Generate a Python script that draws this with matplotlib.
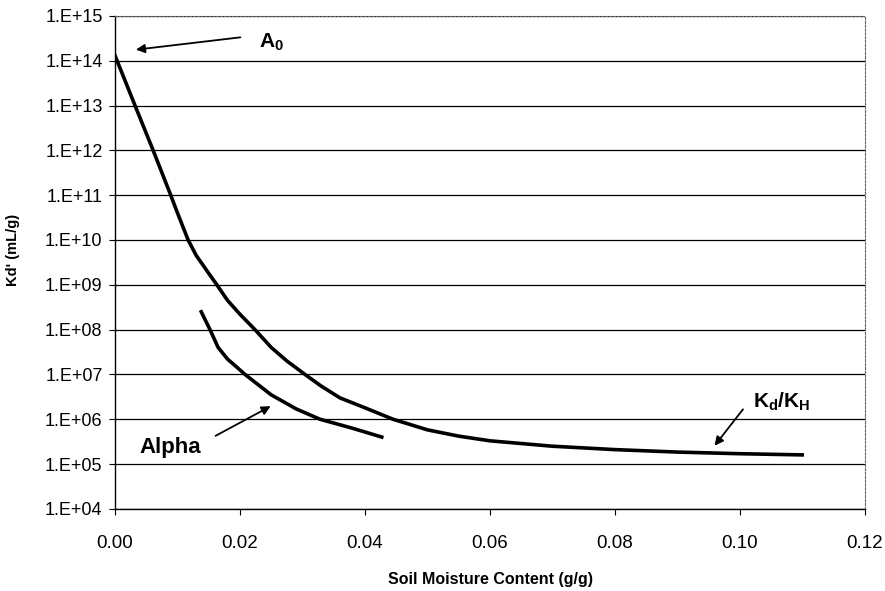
import numpy as np
import matplotlib.pyplot as plt
from matplotlib.ticker import FixedLocator, FuncFormatter, NullLocator

plt.rcParams['font.family'] = ['Liberation Sans', 'DejaVu Sans']
plt.rcParams['mathtext.fontset'] = 'custom'
plt.rcParams['mathtext.rm'] = 'Liberation Sans'
plt.rcParams['mathtext.bf'] = 'Liberation Sans:bold'
plt.rcParams['mathtext.it'] = 'Liberation Sans:italic'

# Kd'/KH curve
main_x = [0.0, 0.0032, 0.0061, 0.0088, 0.010, 0.0117, 0.013, 0.015, 0.0163, 0.018,
          0.020, 0.0224, 0.025, 0.0275, 0.0304, 0.033, 0.036, 0.040, 0.0445, 0.050,
          0.055, 0.060, 0.070, 0.080, 0.090, 0.100, 0.110]
main_y = [1.3e14, 1e13, 1e12, 1.1e11, 4e10, 1e10, 4.5e9, 1.8e9, 1e9, 4.5e8,
          2.2e8, 1e8, 4e7, 2e7, 1e7, 5.5e6, 3e6, 1.8e6, 1e6, 5.8e5,
          4.2e5, 3.3e5, 2.5e5, 2.1e5, 1.85e5, 1.7e5, 1.6e5]

# Alpha curve
alpha_x = [0.0138, 0.0152, 0.0165, 0.018, 0.0195, 0.0208, 0.025, 0.029, 0.0328,
           0.038, 0.0427]
alpha_y = [2.5e8, 1e8, 4e7, 2.2e7, 1.45e7, 1e7, 3.5e6, 1.7e6, 1e6, 6.3e5, 4.0e5]

x_ticks = [0.00, 0.02, 0.04, 0.06, 0.08, 0.10, 0.12]
y_decades = list(range(4, 16))

fig = plt.figure(figsize=(8.85, 5.91), dpi=100)
ax = fig.add_axes([0.130, 0.139, 0.847, 0.834])

ax.plot(main_x, main_y, color='black', lw=2.6, solid_joinstyle='round')
ax.plot(alpha_x, alpha_y, color='black', lw=2.6, solid_joinstyle='round')

ax.set_yscale('log')
ax.set_xlim(0, 0.12)
ax.set_ylim(1e4, 1e15)
ax.yaxis.set_major_locator(FixedLocator([10.0 ** d for d in y_decades]))
ax.yaxis.set_minor_locator(NullLocator())
ax.yaxis.set_major_formatter(FuncFormatter(lambda v, p: '1.E+%02d' % round(np.log10(v))))
ax.set_xticks(x_ticks)
ax.xaxis.set_major_formatter(FuncFormatter(lambda v, p: '%.2f' % v))

ax.yaxis.grid(True, color='black', lw=0.9)
ax.set_axisbelow(True)

for s in ['top', 'right']:
    ax.spines[s].set_color('#666666')
    ax.spines[s].set_linestyle((0, (2, 1.5)))
    ax.spines[s].set_linewidth(0.8)
for s in ['left', 'bottom']:
    ax.spines[s].set_color('black')
    ax.spines[s].set_linewidth(1.0)

ax.tick_params(axis='y', direction='out', length=4, width=0.8, pad=5, labelsize=13)
ax.tick_params(axis='x', direction='out', length=4, width=0.8, pad=15, labelsize=13.5)

ax.set_xlabel('Soil Moisture Content (g/g)', fontsize=11.5, fontweight='bold')
ax.set_ylabel("Kd' (mL/g)", fontsize=10.5, fontweight='bold')
ax.xaxis.set_label_coords(0.501, -0.128)
ax.yaxis.set_label_coords(-0.127, 0.525)

arrow = dict(arrowstyle='-|>', color='black', lw=1.3, mutation_scale=13)

ax.annotate('', xy=(0.0029, 10 ** 14.24), xytext=(0.0205, 10 ** 14.53), arrowprops=arrow)
ax.text(0.025, 10 ** 14.42, r'$\mathbf{A_0}$', fontsize=15, ha='center', va='center')

ax.annotate('', xy=(0.0253, 10 ** 6.32), xytext=(0.0157, 10 ** 5.60), arrowprops=arrow)
ax.text(0.0088, 10 ** 5.38, 'Alpha', fontsize=16, fontweight='bold', ha='center', va='center')

ax.annotate('', xy=(0.0957, 10 ** 5.36), xytext=(0.1008, 10 ** 6.27), arrowprops=arrow)
ax.text(0.1067, 10 ** 6.38, r'$\mathbf{K_d/K_H}$', fontsize=15, ha='center', va='center')

fig.savefig('out.png', dpi=100)
